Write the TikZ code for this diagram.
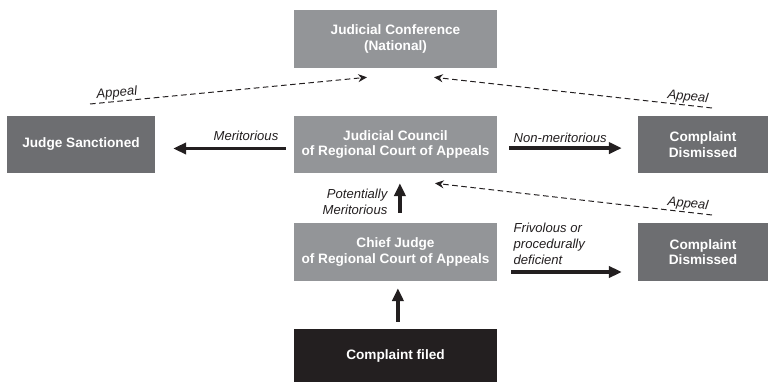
\documentclass[tikz,border=0pt]{standalone}
\usepackage{fontspec}
\setmainfont{Liberation Sans}
\usetikzlibrary{arrows.meta}
\definecolor{MidGray}{HTML}{939598}
\definecolor{DarkGray}{HTML}{6D6E71}
\definecolor{InkBlack}{HTML}{231F20}

\begin{document}
\begin{tikzpicture}[
  box/.style={fill=MidGray, text=white, font=\fontsize{9.7}{11}\selectfont\bfseries, inner sep=0pt, minimum width=5.075cm, minimum height=1.45cm, align=center},
  outbox/.style={box, fill=DarkGray, minimum width=3.25cm},
  lbl/.style={font=\fontsize{9.3}{11.6}\selectfont\itshape, text=InkBlack, inner sep=1pt},
  arr/.style={-{Triangle[length=3.2mm,width=2.8mm]}, line width=2.3pt, InkBlack},
  appeal/.style={-{Stealth[length=2.2mm,width=2mm]}, line width=0.7pt, InkBlack, dash pattern=on 4pt off 2.5pt}
]
\useasboundingbox (0,0) rectangle (19.45,9.55);
\node[box] (conf) at (9.8875,8.575) {Judicial Conference\\(National)};
\node[box, minimum height=1.425cm] (council) at (9.8875,5.9375) {Judicial Council\\of Regional Court of Appeals};
\node[box] (chief) at (9.8875,3.25) {Chief Judge\\of Regional Court of Appeals};
\node[box, fill=InkBlack, minimum height=1.325cm] (filed) at (9.8875,0.6625) {Complaint filed};
\node[outbox, minimum width=3.7cm, minimum height=1.425cm] (sanct) at (2.025,5.9375) {Judge Sanctioned};
\node[outbox, minimum height=1.425cm] (dism1) at (17.575,5.9375) {Complaint\\Dismissed};
\node[outbox] (dism2) at (17.575,3.25) {Complaint\\Dismissed};
% free ends of the appeal lines
\coordinate (lfree) at (2.25,6.95);
\coordinate (rfree) at (17.8,6.85);
\coordinate (dfree) at (17.8,4.175);
% labels
\node[lbl, anchor=base east] (merit) at (7.0,6.025) {Meritorious};
\node[lbl, anchor=base west] (nonmerit) at (12.8,5.975) {Non-meritorious};
\node[lbl, anchor=east, align=right] (potmerit) at (9.725,4.5) {Potentially\\Meritorious};
\node[lbl, anchor=west, align=left] (frivol) at (12.8,3.45) {Frivolous or\\procedurally\\deficient};
% decisions
\draw[arr, shorten <=0.2cm, shorten >=0.45cm] ([yshift=-0.1cm]council.west) -- ([yshift=-0.1cm]sanct.east);
\draw[arr, shorten <=0.3cm, shorten >=0.4cm] ([yshift=-0.09cm]council.east) -- ([yshift=-0.09cm]dism1.west);
\draw[arr, shorten <=0.35cm, shorten >=0.4cm] ([yshift=-0.5cm]chief.east) -- ([yshift=-0.5cm]dism2.west);
\draw[arr, shorten <=0.25cm, shorten >=0.25cm] ([xshift=0.11cm]chief.north) -- ([xshift=0.11cm]council.south);
\draw[arr, shorten <=0.175cm, shorten >=0.175cm] ([xshift=0.06cm]filed.north) -- ([xshift=0.06cm]chief.south);
% appeals
\draw[appeal] (lfree) -- node[lbl, sloped, above, pos=0.1] (ap1) {Appeal} ([xshift=-0.7125cm,yshift=-0.225cm]conf.south);
\draw[appeal] (rfree) -- node[lbl, sloped, above, pos=0.09] (ap2) {Appeal} ([xshift=0.9625cm,yshift=-0.225cm]conf.south);
\draw[appeal] (dfree) -- node[lbl, sloped, above, pos=0.09] (ap3) {Appeal} ([xshift=0.9875cm,yshift=-0.25cm]council.south);
\end{tikzpicture}
\end{document}
